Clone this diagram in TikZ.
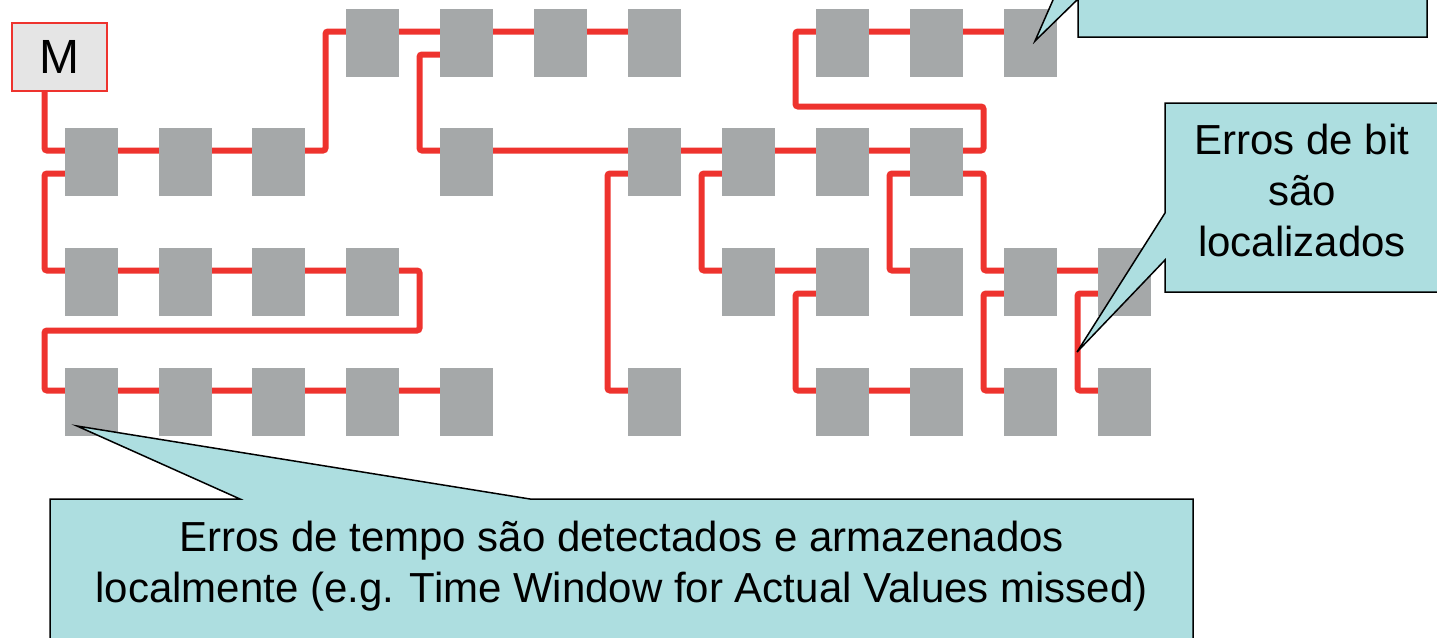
\documentclass[tikz,border=0pt]{standalone}
\usepackage{fontspec}
\setmainfont{Liberation Sans}
\usetikzlibrary{calc,backgrounds}
\definecolor{wirered}{RGB}{238,51,46}
\definecolor{blkgray}{RGB}{165,168,169}
\definecolor{callfill}{RGB}{173,222,224}
\definecolor{mfill}{RGB}{229,229,229}
\begin{document}
\begin{tikzpicture}[x=1pt,y=-1pt,
 blk/.style={rectangle,fill=blkgray,minimum width=53pt,minimum height=68pt,inner sep=0pt},
 wire/.style={draw=wirered,line width=6pt,rounded corners=2.5pt},
 callout/.style={fill=callfill,draw=black,line width=1.5pt,line join=miter},
 ctext/.style={font=\fontsize{42}{51}\selectfont,align=center,inner sep=0pt},
 mbox/.style={rectangle,fill=mfill,draw=wirered,line width=2pt,minimum width=95pt,minimum height=68pt,inner sep=0pt,font=\fontsize{48}{50}\selectfont}]
\useasboundingbox (0,0) rectangle (1437,637);
\clip (0,0) rectangle (1437,637);
\node[mbox] (M) at (59.5,57) {M};
\foreach \n/\x/\y in {a3/372.5/43,a4/466.5/43,a5/560.5/43,a6/654.5/43,a8/842.5/43,a9/936.5/43,a10/1030.5/43,
  b0/91.5/162,b1/185.5/162,b2/278.5/162,b4/466.5/162,b6/654.5/162,b7/748.5/162,b8/842.5/162,b9/936.5/162,
  c0/91.5/282,c1/185.5/282,c2/278.5/282,c3/372.5/282,c7/748.5/282,c8/842.5/282,c9/936.5/282,c10/1030.5/282,c11/1124.5/282,
  d0/91.5/402,d1/185.5/402,d2/278.5/402,d3/372.5/402,d4/466.5/402,d6/654.5/402,d8/842.5/402,d9/936.5/402,d10/1030.5/402,d11/1124.5/402}{
  \node[blk] (\n) at (\x,\y) {};
  \coordinate (u\n) at ($(\n)+(0,-11.5)$);
  \coordinate (l\n) at ($(\n)+(0,11.5)$);
}
\coordinate (m1) at ($(b0)+(-47,0)$);
\begin{scope}[on background layer]
\draw[wire] (M.south -| m1) |- (ub0) -- (ub2) -- ++(47,0) |- (ua3) -- (ua6);
\draw[wire] (lb0) -- ++(-47,0) |- (uc0) -- (uc3) -- ++(47,0) -- ++(0,60) -| ($(ud0)+(-47,0)$) -- (ud0) -- (ud4);
\draw[wire] (la4) -- ++(-47,0) |- (ub4) -- (ub9) -- ++(47,0) -- ++(0,-44) -| ($(ua8)+(-47,0)$) -- (ua8) -- (ua10);
\draw[wire] (lb6) -- ++(-47,0) |- (ud6);
\draw[wire] (lb7) -- ++(-47,0) |- (uc7) -- (uc8);
\draw[wire] (lc8) -- ++(-47,0) |- (ud8) -- (ud9);
\draw[wire] (lb9) -- ++(-47,0) |- (uc9);
\draw[wire] (lb9) -- ++(47,0) |- (uc10) -- (uc11);
\draw[wire] (lc10) -- ++(-47,0) |- (ud10);
\draw[wire] (lc11) -- ++(-47,0) |- (ud11);
\end{scope}
\draw[callout] (50,499) -- (240,499) -- ($(d0)+(-14.5,24)$) -- (530,499) -- (1193,499) -- (1193,650) -- (50,650) -- cycle;
\draw[callout] (1165,103) -- (1450,103) -- (1450,292) -- (1165,292) -- (1165,260) -- ($(d11)+(-47.5,-50)$) -- (1165,213) -- cycle;
\draw[callout] (1078,37) -- (1427,37) -- (1427,-60) -- (1078,-60) -- (1078,-57) -- ($(a10)+(4.5,-2)$) -- (1078,-1) -- cycle;
\node[ctext,anchor=base] (tC) at (621.5,602) {Erros de tempo são detectados e armazenados\\localmente (e.g. Time Window for Actual Values missed)};
\node[ctext,anchor=base] (tB) at (1302,256) {Erros de bit\\são\\localizados};
\end{tikzpicture}
\end{document}
